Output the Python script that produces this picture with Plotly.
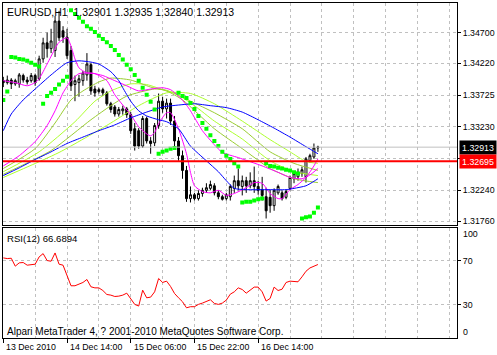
import plotly.graph_objects as go

# ---------------- data (EURUSD H1, bar index 0..79) ----------------
bars = list(range(80))
open_ = [1.3395,1.3392,1.3396,1.3390,1.3390,1.3403,1.3396,1.3395,1.3403,1.3398,
 1.3429,1.3454,1.3445,1.3442,1.3488,1.3473,1.3463,1.3442,1.3389,1.3392,
 1.3395,1.3404,1.3420,1.3382,1.3378,1.3381,1.3376,1.3359,1.3354,1.3343,
 1.3348,1.3351,1.3342,1.3320,1.3317,1.3293,1.3336,1.3301,1.3298,1.3325,
 1.3363,1.3351,1.3360,1.3332,1.3301,1.3278,1.3255,1.3211,1.3217,1.3211,
 1.3219,1.3224,1.3227,1.3231,1.3220,1.3214,1.3211,1.3214,1.3227,1.3239,
 1.3230,1.3239,1.3231,1.3239,1.3230,1.3225,1.3214,1.3213,1.3200,1.3220,
 1.3220,1.3213,1.3227,1.3242,1.3245,1.3250,1.3245,1.3270,1.3276,1.32901]
high = [1.3401,1.3403,1.3399,1.3398,1.3407,1.3406,1.3401,1.3407,1.3406,1.3434,
 1.3462,1.3470,1.3476,1.3496,1.3504,1.3480,1.3476,1.3449,1.3403,1.3404,
 1.3410,1.3438,1.3423,1.3387,1.3384,1.3384,1.3379,1.3362,1.3357,1.3354,
 1.3356,1.3354,1.3346,1.3329,1.3321,1.3340,1.3339,1.3307,1.3329,1.3375,
 1.3370,1.3367,1.3367,1.3340,1.3307,1.3286,1.3262,1.3230,1.3220,1.3224,
 1.3228,1.3235,1.3239,1.3235,1.3224,1.3217,1.3220,1.3233,1.3247,1.3258,
 1.3247,1.3245,1.3252,1.3261,1.3239,1.3245,1.3228,1.3225,1.3227,1.3233,
 1.3224,1.3225,1.3247,1.3252,1.3258,1.3261,1.3276,1.3281,1.3297,1.32935]
low = [1.3385,1.3389,1.3382,1.3387,1.3384,1.3392,1.3389,1.3392,1.3387,1.3395,
 1.3423,1.3431,1.3438,1.3432,1.3457,1.3454,1.3429,1.3379,1.3363,1.3370,
 1.3387,1.3395,1.3373,1.3370,1.3375,1.3371,1.3356,1.3345,1.3339,1.3339,
 1.3342,1.3337,1.3312,1.3286,1.3289,1.3290,1.3297,1.3281,1.3293,1.3320,
 1.3345,1.3336,1.3326,1.3293,1.3270,1.3242,1.3206,1.3205,1.3208,1.3208,
 1.3214,1.3220,1.3224,1.3216,1.3210,1.3208,1.3208,1.3208,1.3220,1.3224,
 1.3216,1.3220,1.3227,1.3220,1.3217,1.3208,1.3180,1.3189,1.3192,1.3217,
 1.3208,1.3210,1.3224,1.3235,1.3239,1.3245,1.3236,1.3267,1.3273,1.32840]
close = [1.3392,1.3396,1.3390,1.3395,1.3404,1.3396,1.3393,1.3403,1.3392,1.3429,
 1.3454,1.3445,1.3457,1.3488,1.3462,1.3463,1.3434,1.3387,1.3395,1.3398,
 1.3407,1.3421,1.3379,1.3376,1.3381,1.3376,1.3359,1.3350,1.3343,1.3350,
 1.3351,1.3342,1.3317,1.3293,1.3293,1.3336,1.3301,1.3297,1.3325,1.3363,
 1.3351,1.3360,1.3332,1.3301,1.3278,1.3255,1.3211,1.3217,1.3211,1.3219,
 1.3224,1.3228,1.3233,1.3220,1.3214,1.3210,1.3217,1.3230,1.3239,1.3231,
 1.3239,1.3231,1.3239,1.3230,1.3224,1.3216,1.3192,1.3200,1.3224,1.3230,
 1.3211,1.3222,1.3244,1.3250,1.3252,1.3256,1.3273,1.3278,1.3290,1.32913]

sar = [1.3365,1.3378,1.3432,1.3431,1.3429,1.3428,1.3426,1.3423,1.3420,1.3417,
 1.3359,1.3371,1.3376,1.3382,1.3389,1.3395,1.3401,1.3505,1.3499,1.3493,
 1.3487,1.3480,1.3476,1.3471,1.3465,1.3460,1.3455,1.3449,1.3443,1.3435,
 1.3428,1.3420,1.3413,1.3404,1.3395,1.3384,1.3373,1.3362,1.3350,1.3281,
 1.3284,1.3286,1.3289,1.3290,1.3376,1.3371,1.3368,1.3360,1.3351,1.3340,
 1.3329,1.3320,1.3310,1.3301,1.3293,1.3284,1.3278,1.3273,1.3266,1.3261,
 1.3205,1.3206,1.3206,1.3208,1.3210,1.3211,1.3266,1.3262,1.3261,1.3259,
 1.3258,1.3256,1.3255,1.3252,1.3250,1.3180,1.3182,1.3183,1.3189,1.3197]

rsi = [72.7,72.1,72.4,65.2,68.2,68.5,66.1,66.7,67.0,73.6,
 76.6,70.3,69.7,77.2,67.0,66.1,57.0,47.4,47.4,48.6,
 50.4,53.1,46.5,45.5,45.5,43.1,39.5,38.9,37.7,38.0,
 38.9,40.7,35.9,30.5,29.0,43.4,36.5,37.1,41.9,54.0,
 50.4,51.6,46.8,40.4,36.5,32.9,27.4,28.4,28.4,30.5,
 31.7,33.5,34.7,31.4,30.5,31.7,34.4,39.8,41.9,45.5,
 44.0,40.7,43.4,46.2,46.2,41.9,33.5,35.9,46.2,43.1,
 44.3,50.4,51.6,51.6,51.0,55.5,60.6,63.6,65.5,66.6894]

# moving averages at selected bars
blueA_x = [0,2,5,8,12,16,19,22,24,27,29,30,32,34,36,39,41,44,47,51,54,56,58,61,66,71,73,76,78,79]
blueA_y = [1.3317,1.3343,1.3365,1.3382,1.3404,1.3423,1.3426,1.3424,1.3421,1.3409,1.3395,1.3384,1.3363,1.3348,1.3340,
           1.3334,1.3331,1.3320,1.3293,1.3270,1.3253,1.3239,1.3227,1.3225,1.3225,1.3225,1.3227,1.3231,1.3238,1.3242]
blueB_x = [0,4,8,12,16,20,24,28,32,36,40,44,48,52,56,60,64,68,72,76,79]
blueB_y = [1.3247,1.3259,1.3272,1.3284,1.3297,1.3307,1.3317,1.3326,1.3337,1.3346,1.3354,1.3357,1.3359,1.3356,1.3353,
           1.3346,1.3334,1.3321,1.3307,1.3292,1.3281]
mag1_x = [0,3,6,8,9,11,13,14,16,17,18,19,21,23,26,28,30,32,34,36,37,38,39,41,42,44,46,47,48,50,52,54,56,58,61,63,65,67,69,70,72,74,76,78,79]
mag1_y = [1.3395,1.3392,1.3387,1.3392,1.3398,1.3421,1.3445,1.3455,1.3462,1.3449,1.3429,1.3415,1.3407,1.3406,1.3395,
          1.3373,1.3357,1.3342,1.3323,1.3312,1.3309,1.3314,1.3328,1.3345,1.3345,1.3320,1.3281,1.3252,1.3231,1.3222,
          1.3220,1.3224,1.3216,1.3219,1.3228,1.3236,1.3235,1.3219,1.3211,1.3211,1.3225,1.3233,1.3244,1.3262,1.3273]
mag2_x = [0,4,8,11,13,15,17,19,22,25,28,31,34,37,40,42,44,46,47,50,53,55,59,65,69,72,75,77,79]
mag2_y = [1.3262,1.3278,1.3300,1.3325,1.3348,1.3376,1.3395,1.3406,1.3407,1.3403,1.3395,1.3387,1.3379,1.3382,1.3384,
          1.3381,1.3371,1.3357,1.3348,1.3317,1.3295,1.3283,1.3275,1.3262,1.3252,1.3244,1.3242,1.3248,1.3258]
g1_x = [0,8,13,17,20,24,27,32,37,41,45,53,60,67,73,79]
g1_y = [1.3258,1.3289,1.3329,1.3365,1.3379,1.3393,1.3399,1.3396,1.3385,1.3379,1.3365,1.3320,1.3289,1.3258,1.3242,1.3236]
g2_x = [0,9,18,23,27,32,36,41,43,48,53,60,67,73,79]
g2_y = [1.3253,1.3284,1.3331,1.3363,1.3379,1.3390,1.3389,1.3379,1.3376,1.3356,1.3332,1.3304,1.3270,1.3253,1.3247]
g3_x = [0,12,22,27,31,38,41,47,53,60,67,73,79]
g3_y = [1.3249,1.3286,1.3334,1.3356,1.3371,1.3382,1.3380,1.3363,1.3345,1.3320,1.3284,1.3266,1.3255]
g4_x = [0,14,27,34,41,47,53,60,67,72,76,79]
g4_y = [1.3244,1.3283,1.3329,1.3356,1.3376,1.3375,1.3359,1.3332,1.3303,1.3284,1.3269,1.3266]

price_ticks = [1.31760, 1.32240, 1.32735, 1.33230, 1.33725, 1.34220, 1.34700]
price_labels = ["1.31760", "1.32240", "", "1.33230", "1.33725", "1.34220", "1.34700"]
bid_price = 1.32913
level_price = 1.32695
time_tick_pos = [0, 16, 32, 48, 64]
time_tick_text = ["13 Dec 2010", "14 Dec 14:00", "15 Dec 06:00", "15 Dec 22:00", "16 Dec 14:00"]
rsi_levels = [30, 70]

# ---------------- figure ----------------
FONT = "Liberation Sans, Arial, sans-serif"
GRID = "#C0C0C0"
W, H = 497, 355
ML, MR, MT, MB = 3, 38, 2, 17
PW, PH = W - ML - MR, H - MT - MB

def px_x(px):
    return (px - ML) / PW

def px_y(py):
    return (H - MB - py) / PH

fig = go.Figure()

fig.add_trace(go.Candlestick(
    x=bars, open=open_, high=high, low=low, close=close,
    increasing=dict(line=dict(color="black", width=1), fillcolor="white"),
    decreasing=dict(line=dict(color="black", width=1), fillcolor="black"),
    whiskerwidth=0, xaxis="x", yaxis="y", hoverinfo="skip"))

for gx, gy, col in [(g4_x, g4_y, "#ADFF2F"), (g3_x, g3_y, "#9ACD32"),
                    (g2_x, g2_y, "#ADFF2F"), (g1_x, g1_y, "#9ACD32")]:
    fig.add_trace(go.Scatter(x=gx, y=gy, mode="lines",
                             line=dict(color=col, width=1, shape="spline", smoothing=0.6),
                             xaxis="x", yaxis="y", hoverinfo="skip"))

for mx, my, col in [(mag2_x, mag2_y, "#FF00FF"), (mag1_x, mag1_y, "#FF00FF"),
                    (blueB_x, blueB_y, "#0000FF"), (blueA_x, blueA_y, "#0000FF")]:
    fig.add_trace(go.Scatter(x=mx, y=my, mode="lines",
                             line=dict(color=col, width=1, shape="spline", smoothing=0.6),
                             xaxis="x", yaxis="y", hoverinfo="skip"))

fig.add_trace(go.Scatter(x=bars, y=sar, mode="markers",
                         marker=dict(symbol="square", size=4, color="#00FF00", line=dict(width=0)),
                         xaxis="x", yaxis="y", hoverinfo="skip"))

fig.add_trace(go.Scatter(x=bars, y=rsi, mode="lines",
                         line=dict(color="#FF0000", width=1),
                         xaxis="x2", yaxis="y2", hoverinfo="skip"))

xr = [-0.075, 113.925]
grid_all = list(range(0, 113, 8))
minor_vals = [v for v in grid_all if v not in time_tick_pos]

common_x = dict(range=xr, showline=True, mirror=True, linecolor="black", linewidth=1,
                showgrid=True, gridcolor=GRID, griddash="3px,3px", gridwidth=1,
                tickvals=time_tick_pos, ticktext=[""] * len(time_tick_pos),
                showticklabels=False, zeroline=False, fixedrange=True,
                minor=dict(tickvals=minor_vals, showgrid=True, gridcolor=GRID,
                           griddash="3px,3px", ticks=""))

TICKSZ = 8.8
fig.update_layout(
    width=W, height=H, margin=dict(l=ML, r=MR, t=MT, b=MB),
    paper_bgcolor="white", plot_bgcolor="white", showlegend=False,
    font=dict(family=FONT, size=10, color="black"),
    xaxis=dict(**common_x, anchor="y", ticks="", rangeslider=dict(visible=False)),
    xaxis2=dict(**common_x, anchor="y2", ticks="outside", ticklen=4, tickcolor="black"),
    yaxis=dict(domain=[px_y(224.5), 1], range=[1.31701, 1.35162], side="right",
               showline=True, mirror=True, linecolor="black", linewidth=1,
               tickvals=price_ticks, ticktext=price_labels,
               ticks="outside", ticklen=3, tickcolor="black",
               tickfont=dict(family=FONT, size=TICKSZ),
               showgrid=True, gridcolor=GRID, griddash="3px,3px", zeroline=False),
    yaxis2=dict(domain=[0, px_y(227.5)], range=[0, 100], side="right",
                showline=True, mirror=True, linecolor="black", linewidth=1,
                tickvals=rsi_levels, ticktext=[str(v) for v in rsi_levels],
                ticks="outside", ticklen=3, tickcolor="black",
                tickfont=dict(family=FONT, size=TICKSZ),
                showgrid=True, gridcolor=GRID, griddash="3px,3px", zeroline=False),
)

fig.add_shape(type="line", xref="paper", x0=0, x1=1, yref="y", y0=bid_price, y1=bid_price,
              line=dict(color="#C0C0C0", width=1))
fig.add_shape(type="line", xref="paper", x0=0, x1=1, yref="y", y0=level_price, y1=level_price,
              line=dict(color="#FF0000", width=2))

ann = []
ann.append(dict(xref="paper", yref="paper", x=px_x(5), y=px_y(11), xanchor="left", yanchor="middle",
                text="EURUSD,H1  1.32901 1.32935 1.32840 1.32913", showarrow=False,
                font=dict(family=FONT, size=10.5)))
ann.append(dict(xref="paper", yref="paper", x=px_x(5), y=px_y(238), xanchor="left", yanchor="middle",
                text="RSI(12) 66.6894", showarrow=False, font=dict(family=FONT, size=9.6)))
ann.append(dict(xref="paper", yref="paper", x=px_x(5), y=px_y(331), xanchor="left", yanchor="middle",
                text="Alpari MetaTrader 4, ? 2001-2010 MetaQuotes Software Corp.", showarrow=False,
                font=dict(family=FONT, size=10)))
for pos, txt in zip(time_tick_pos, time_tick_text):
    ann.append(dict(xref="x2", yref="paper", x=pos, y=px_y(347.5), xanchor="left", yanchor="middle",
                    xshift=1, text=txt, showarrow=False, font=dict(family=FONT, size=8.8)))
ann.append(dict(xref="paper", yref="paper", x=px_x(463), y=px_y(234), xanchor="left", yanchor="middle",
                text="100", showarrow=False, font=dict(family=FONT, size=TICKSZ)))
ann.append(dict(xref="paper", yref="paper", x=px_x(463), y=px_y(332), xanchor="left", yanchor="middle",
                text="0", showarrow=False, font=dict(family=FONT, size=TICKSZ)))
ann.append(dict(xref="paper", yref="y", x=px_x(461), y=bid_price, xanchor="left", yanchor="middle",
                text="1.32913", showarrow=False, bgcolor="black", width=34, height=11, borderpad=1,
                font=dict(family=FONT, size=TICKSZ, color="white")))
ann.append(dict(xref="paper", yref="y", x=px_x(461), y=level_price, xanchor="left", yanchor="middle",
                text="1.32695", showarrow=False, bgcolor="#FF0000", width=34, height=11, borderpad=1,
                font=dict(family=FONT, size=TICKSZ, color="white")))
fig.update_layout(annotations=ann)

fig.write_html("out.html")
